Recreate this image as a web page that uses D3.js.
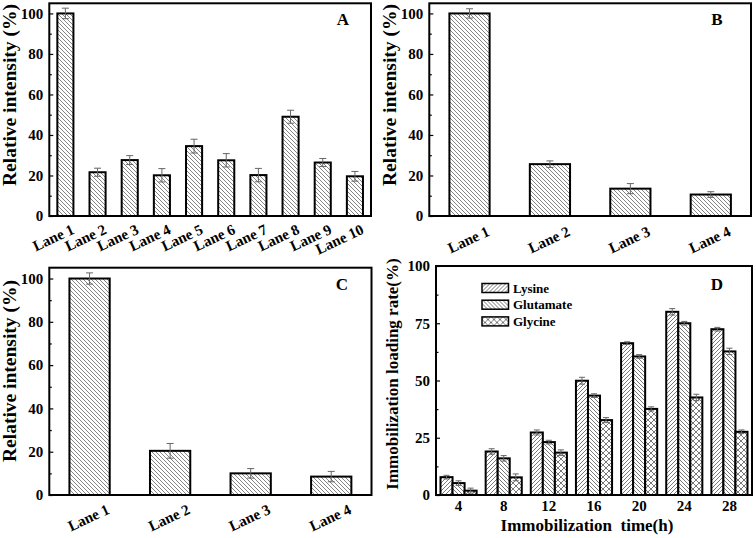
<!DOCTYPE html>
<html><head><meta charset="utf-8">
<script src="https://cdn.jsdelivr.net/npm/d3@7"></script>
<style>body{margin:0;background:#fff;}</style></head>
<body><svg id="c" width="756" height="538" font-family="Liberation Serif" font-weight="bold"></svg>
<script>
// ---------- data ----------
const lanesA = ["Lane 1","Lane 2","Lane 3","Lane 4","Lane 5","Lane 6","Lane 7","Lane 8","Lane 9","Lane 10"];
const valuesA = [100, 21.6, 27.6, 20.1, 34.5, 27.5, 20.2, 49.0, 26.4, 19.6];
const errorsA = [2.6, 2.0, 2.2, 3.3, 3.4, 3.3, 3.3, 3.2, 2.0, 2.4];

const lanesB = ["Lane 1","Lane 2","Lane 3","Lane 4"];
const valuesB = [100, 25.6, 13.5, 10.6];
const errorsB = [2.3, 1.6, 2.5, 1.4];

const lanesC = ["Lane 1","Lane 2","Lane 3","Lane 4"];
const valuesC = [100, 20.4, 10.0, 8.5];
const errorsC = [2.6, 3.4, 2.2, 2.4];

const timesD = ["4","8","12","16","20","24","28"];
const seriesD = ["Lysine","Glutamate","Glycine"];
const lysine    = [7.8, 19.0, 27.3, 49.9, 66.3, 80.0, 72.4];
const glutamate = [5.2, 16.0, 23.1, 43.4, 60.5, 75.0, 62.7];
const glycine   = [1.9,  7.7, 18.5, 32.7, 37.6, 42.6, 27.6];
const lysineErr    = [0.8, 1.2, 1.1, 1.5, 0.6, 1.4, 0.8];
const glutamateErr = [1.0, 1.2, 0.8, 0.8, 0.8, 0.8, 1.4];
const glycineErr   = [1.1, 1.5, 1.2, 1.1, 0.9, 1.4, 0.8];

const yTicksABC = [0,20,40,60,80,100];
const yMinorABC = [10,30,50,70,90];
const yTicksD = [0,25,50,75,100];
const yMinorD = [12.5,37.5,62.5,87.5];

// ---------- setup ----------
const FONT = "Liberation Serif";
const svg = d3.select("#c");
const defs = svg.append("defs");
function hatch(id, paths, size, color, sw){
  const p = defs.append("pattern").attr("id",id).attr("patternUnits","userSpaceOnUse")
    .attr("width",size).attr("height",size);
  p.append("rect").attr("width",size).attr("height",size).attr("fill","#fff");
  paths.forEach(d=>p.append("path").attr("d",d).attr("stroke",color).attr("stroke-width",sw).attr("fill","none"));
}
hatch("back", ["M-1,-1 L5,5","M-1,3 L1,5","M3,-1 L5,1"], 4, "#666", 0.8);
hatch("fwd",  ["M-1,5 L5,-1","M-1,1 L1,-1","M3,5 L5,3"], 4, "#555", 0.8);
hatch("backD",["M-1,-1 L5,5","M-1,3 L1,5","M3,-1 L5,1"], 4, "#555", 0.8);
hatch("cross",["M0,0 L6,6","M0,6 L6,0"], 6, "#555", 0.8);

function fixAxis(s, size){
  s.attr("font-family",FONT).attr("font-size",size).attr("font-weight","bold");
  s.select(".domain").remove();
  s.selectAll("line").attr("stroke","#000").attr("stroke-width",1.2);
}

function yAxis(g, y, left, major, minor){
  g.append("g").attr("transform",`translate(${left},0)`)
    .call(d3.axisLeft(y).tickValues(major).tickSizeInner(-4).tickSizeOuter(0).tickPadding(6))
    .call(s=>fixAxis(s,15));
  g.append("g").attr("transform",`translate(${left},0)`)
    .call(d3.axisLeft(y).tickValues(minor).tickSizeInner(-2.5).tickSizeOuter(0).tickFormat(""))
    .call(s=>fixAxis(s,15));
}

function errBar(g, cx, y, v, e, cap){
  const c = "#666";
  g.append("line").attr("x1",cx).attr("x2",cx).attr("y1",y(v+e)).attr("y2",y(v-e)).attr("stroke",c).attr("stroke-width",1);
  g.append("line").attr("x1",cx-cap).attr("x2",cx+cap).attr("y1",y(v+e)).attr("y2",y(v+e)).attr("stroke",c).attr("stroke-width",1);
  g.append("line").attr("x1",cx-cap).attr("x2",cx+cap).attr("y1",y(v-e)).attr("y2",y(v-e)).attr("stroke",c).attr("stroke-width",1);
}

function simplePanel(cfg){
  const g = svg.append("g");
  const x = d3.scaleBand().domain(cfg.cats).range([cfg.x0,cfg.x1]).paddingInner(0.5).paddingOuter(0.25);
  const y = d3.scaleLinear().domain([0,105]).range([cfg.y1,cfg.y0]);
  cfg.cats.forEach((c,i)=>{
    g.append("rect").attr("x",x(c)).attr("y",y(cfg.vals[i])).attr("width",x.bandwidth())
      .attr("height",y(0)-y(cfg.vals[i])).attr("fill","url(#back)").attr("stroke","#000").attr("stroke-width",2);
  });
  cfg.cats.forEach((c,i)=>errBar(g, x(c)+x.bandwidth()/2, y, cfg.vals[i], cfg.errs[i], 3.5));
  g.append("rect").attr("x",cfg.x0).attr("y",cfg.y0).attr("width",cfg.x1-cfg.x0).attr("height",cfg.y1-cfg.y0)
    .attr("fill","none").attr("stroke","#000").attr("stroke-width",2);
  yAxis(g, y, cfg.x0, yTicksABC, yMinorABC);
  g.append("g").attr("transform",`translate(0,${cfg.y1})`)
    .call(d3.axisBottom(x).tickSize(0))
    .call(s=>fixAxis(s,15))
    .call(s=>s.selectAll("text").attr("x",0).attr("y",0).attr("dy",null)
      .attr("text-anchor","end")
      .attr("transform",`translate(${cfg.lx},${cfg.ly}) rotate(-25)`));
  g.append("text").attr("transform",`translate(${cfg.tx},${cfg.ty}) rotate(-90)`).attr("text-anchor","middle")
    .attr("font-size",19.5).text("Relative intensity (%)");
  g.append("text").attr("x",cfg.px).attr("y",cfg.py).attr("text-anchor","middle").attr("font-size",17).text(cfg.letter);
}

simplePanel({cats:lanesA, vals:valuesA, errs:errorsA, x0:49.3, x1:371, y0:3.3, y1:216, lx:10, ly:17, tx:16, ty:95, px:343, py:25, letter:"A"});
simplePanel({cats:lanesB, vals:valuesB, errs:errorsB, x0:429.3, x1:751, y0:3.3, y1:216, lx:21, ly:19, tx:396, ty:95, px:717, py:25, letter:"B"});
simplePanel({cats:lanesC, vals:valuesC, errs:errorsC, x0:49.3, x1:371.5, y0:267.7, y1:495, lx:21, ly:18, tx:16, ty:371, px:342, py:290, letter:"C"});

// ---------- panel D ----------
(function(){
  const x0=436, x1=752, y0=266, y1=495;
  const g = svg.append("g");
  const x = d3.scaleBand().domain(timesD).range([x0,x1]).paddingInner(0.2).paddingOuter(0.1);
  const xs = d3.scaleBand().domain(seriesD).range([0,x.bandwidth()]);
  const y = d3.scaleLinear().domain([0,100]).range([y1,y0]);
  const vals = [lysine, glutamate, glycine];
  const errs = [lysineErr, glutamateErr, glycineErr];
  const fills = ["url(#fwd)","url(#backD)","url(#cross)"];
  seriesD.forEach((s,si)=>{
    timesD.forEach((t,i)=>{
      g.append("rect").attr("x",x(t)+xs(s)).attr("y",y(vals[si][i])).attr("width",xs.bandwidth())
        .attr("height",y(0)-y(vals[si][i])).attr("fill",fills[si]).attr("stroke","#000").attr("stroke-width",2);
    });
  });
  seriesD.forEach((s,si)=>timesD.forEach((t,i)=>errBar(g, x(t)+xs(s)+xs.bandwidth()/2, y, vals[si][i], errs[si][i], 3)));
  g.append("rect").attr("x",x0).attr("y",y0).attr("width",x1-x0).attr("height",y1-y0)
    .attr("fill","none").attr("stroke","#000").attr("stroke-width",2);
  yAxis(g, y, x0, yTicksD, yMinorD);
  g.append("g").attr("transform",`translate(0,${y1})`)
    .call(d3.axisBottom(x).tickSize(0).tickPadding(5))
    .call(s=>fixAxis(s,15));
  g.append("text").attr("x",587).attr("y",530.5).attr("text-anchor","middle").attr("font-size",17)
    .attr("xml:space","preserve").text("Immobilization  time(h)");
  g.append("text").attr("transform","translate(398,374) rotate(-90)").attr("text-anchor","middle")
    .attr("font-size",17).text("Immobilization loading rate(%)");
  g.append("text").attr("x",717).attr("y",290).attr("text-anchor","middle").attr("font-size",17).text("D");
  const lg = g.append("g").attr("transform","translate(482,283.5)");
  seriesD.forEach((s,i)=>{
    lg.append("rect").attr("x",0).attr("y",i*16.7).attr("width",26.5).attr("height",9)
      .attr("fill",fills[i]).attr("stroke","#000").attr("stroke-width",1.5);
    lg.append("text").attr("x",31).attr("y",i*16.7+9).attr("font-size",13).text(s);
  });
})();
</script></body></html>
